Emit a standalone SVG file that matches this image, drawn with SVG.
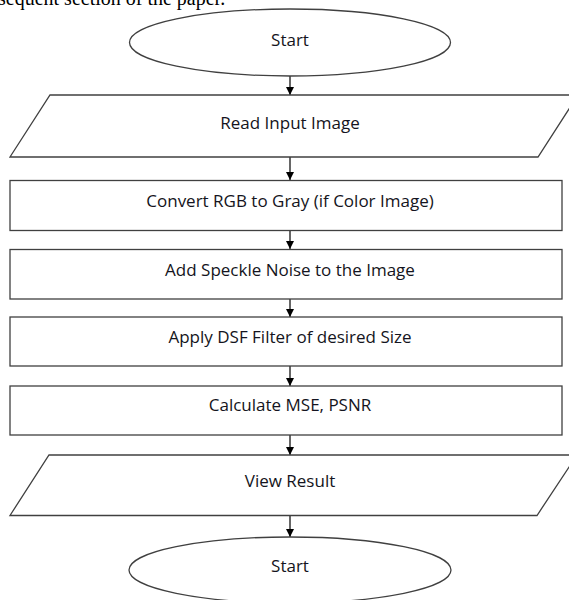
<svg xmlns="http://www.w3.org/2000/svg" width="569" height="600" viewBox="0 0 569 600">
<style>
.shape{fill:#fff;stroke:#404040;stroke-width:1.3}
.lbl{font-family:"Open Sans","Liberation Sans",sans-serif;font-size:17px;fill:#141420;text-anchor:middle}
.conn{stroke:#000;stroke-width:1.2;fill:none;marker-end:url(#arr)}
</style>
<defs>
<marker id="arr" viewBox="0 0 10 10" refX="10" refY="5" markerWidth="8" markerHeight="8" markerUnits="userSpaceOnUse" orient="auto">
<path d="M0,0 L10,5 L0,10 z" fill="#000"/>
</marker>
</defs>
<rect width="569" height="600" fill="#fff"/>
<text x="-2" y="5" font-family="Liberation Serif,serif" font-size="20" fill="#000">sequent section of the paper.</text>
<g id="connectors">
<line class="conn" x1="290" y1="76" x2="290" y2="95"/>
<line class="conn" x1="290" y1="157" x2="290" y2="180"/>
<line class="conn" x1="290" y1="230" x2="290" y2="249"/>
<line class="conn" x1="290" y1="299" x2="290" y2="317"/>
<line class="conn" x1="290" y1="366" x2="290" y2="386"/>
<line class="conn" x1="290" y1="435" x2="290" y2="455"/>
<line class="conn" x1="290" y1="515" x2="290" y2="537"/>
</g>
<g id="start">
<ellipse class="shape" cx="290" cy="42.5" rx="160.5" ry="33.5"/>
<text class="lbl" x="290" y="46">Start</text>
</g>
<g id="read-input">
<polygon class="shape" points="50,95 578,95 538,157 10,157"/>
<text class="lbl" x="290" y="129">Read Input Image</text>
</g>
<g id="convert">
<rect class="shape" x="10" y="180.5" width="552" height="50"/>
<text class="lbl" x="290" y="207">Convert RGB to Gray (if Color Image)</text>
</g>
<g id="speckle">
<rect class="shape" x="10" y="249.5" width="552" height="49.5"/>
<text class="lbl" x="290" y="276">Add Speckle Noise to the Image</text>
</g>
<g id="dsf">
<rect class="shape" x="10" y="317" width="552" height="49"/>
<text class="lbl" x="290" y="343">Apply DSF Filter of desired Size</text>
</g>
<g id="calc">
<rect class="shape" x="10" y="386" width="552" height="49"/>
<text class="lbl" x="290" y="411">Calculate MSE, PSNR</text>
</g>
<g id="view">
<polygon class="shape" points="49,455 577,455 537,515.5 10,515.5"/>
<text class="lbl" x="290" y="487">View Result</text>
</g>
<g id="end">
<ellipse class="shape" cx="290" cy="570" rx="161" ry="33"/>
<text class="lbl" x="290" y="572">Start</text>
</g>
</svg>
